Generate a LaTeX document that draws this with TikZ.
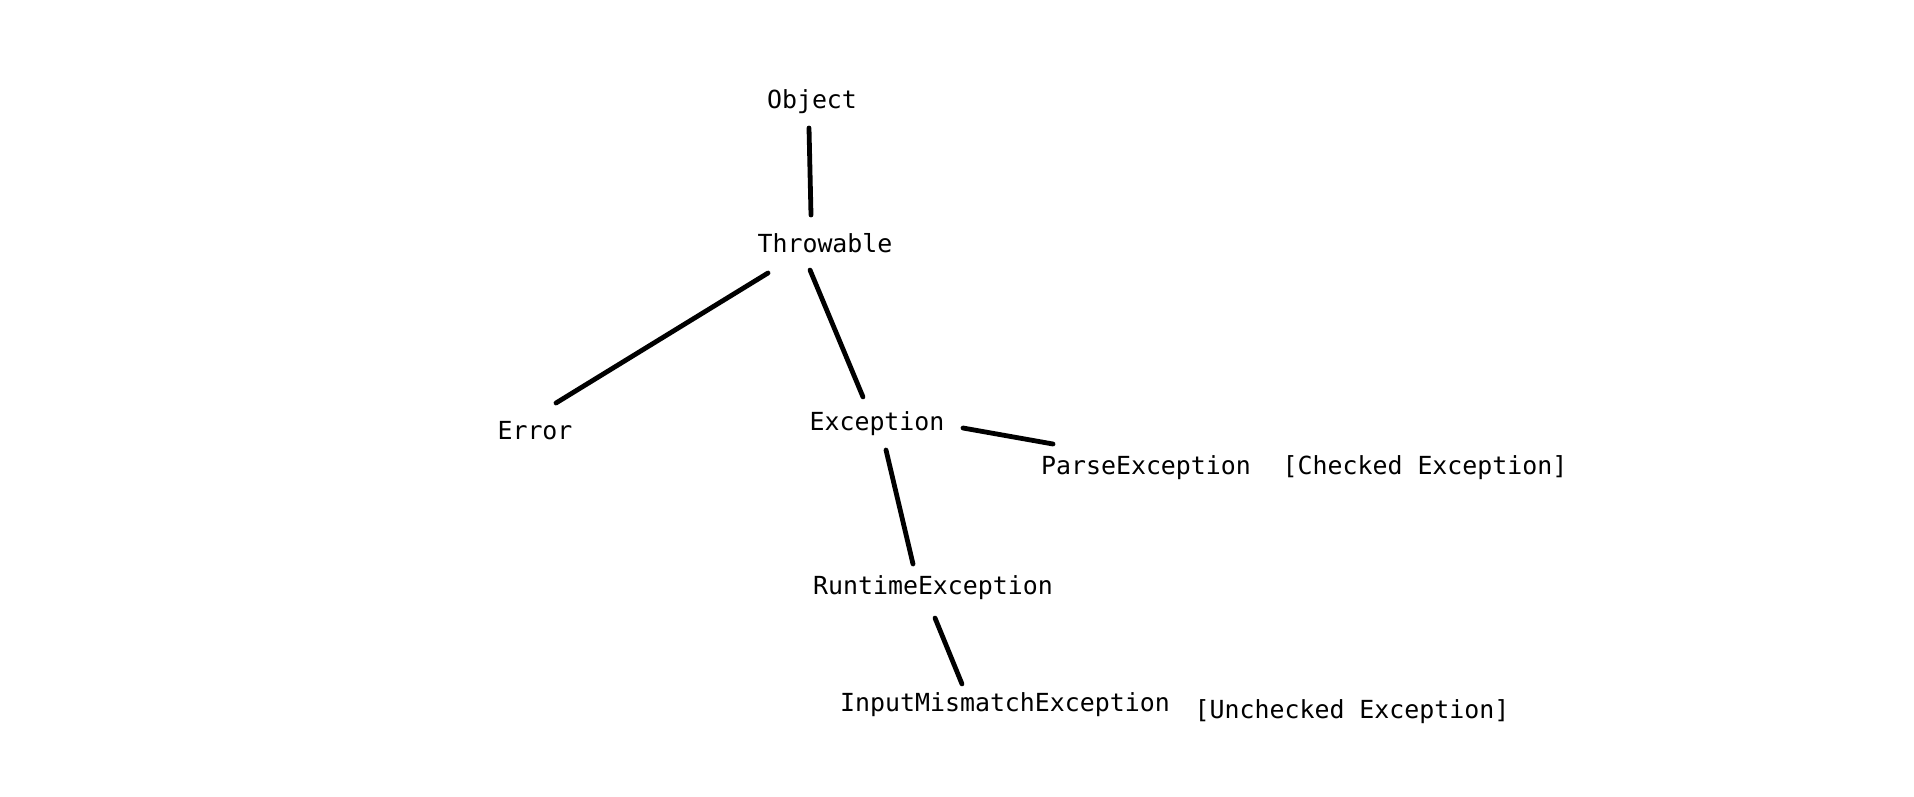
\documentclass[tikz,border=0pt]{standalone}
\usepackage{fontspec}
\newfontfamily\codefont{DejaVu Sans Mono}
\usetikzlibrary{calc}
\tikzset{
  lbl/.style={inner sep=0pt, anchor=base, font=\codefont\fontsize{24.9}{30}\selectfont},
  link/.style={line width=4.8pt, line cap=round, black}
}
\begin{document}
\begin{tikzpicture}[x=1pt,y=-1pt]
\useasboundingbox (0,0) rectangle (1914,796);
\fill[white] (0,0) rectangle (1914,796);
\node[lbl] (obj) at (812,108) {Object};
\node[lbl] (thr) at (825,252) {Throwable};
\node[lbl] (err) at (535,439) {Error};
\node[lbl] (exc) at (877,430) {Exception};
\node[lbl] (prs) at (1146,474) {ParseException};
\node[lbl] (chk) at (1425,474) {[Checked Exception]};
\node[lbl] (rte) at (933,594) {RuntimeException};
\node[lbl] (ime) at (1005,711) {InputMismatchException};
\node[lbl] (unc) at (1352,718) {[Unchecked Exception]};
\draw[link] ($(obj.base)+(-3,20)$) -- ($(thr.base)+(-14,-37)$);
\draw[link] ($(thr.base)+(-57,21)$) -- ($(err.base)+(21,-36)$);
\draw[link] ($(thr.base)+(-15,18)$) -- ($(exc.base)+(-14,-33)$);
\draw[link] ($(exc.base)+(86,-2)$) -- ($(prs.base)+(-93,-30)$);
\draw[link] ($(exc.base)+(9,20)$) -- ($(rte.base)+(-20,-30)$);
\draw[link] ($(rte.base)+(2,24)$) -- ($(ime.base)+(-43,-27)$);
\end{tikzpicture}
\end{document}
